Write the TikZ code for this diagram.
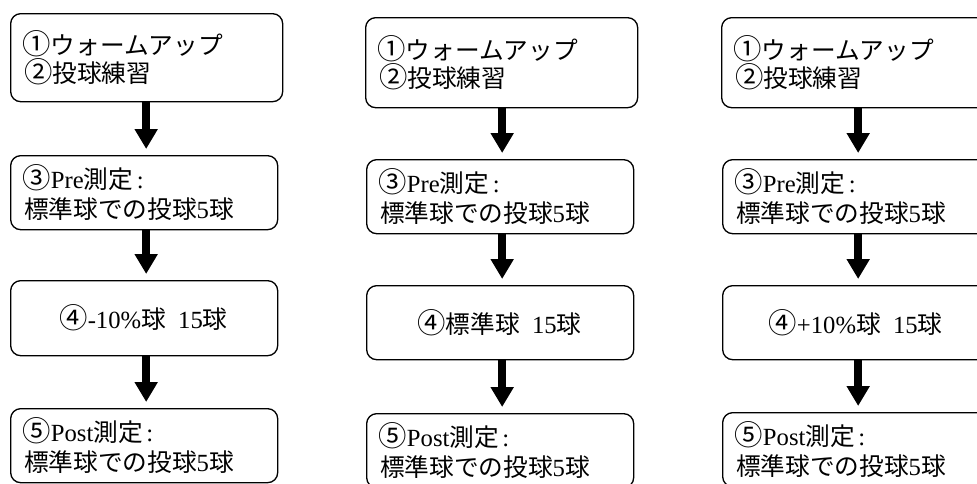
\documentclass[tikz,border=0pt]{standalone}
\usepackage{fontspec}
\setmainfont{Liberation Serif}
\newfontfamily\jp{Noto Sans CJK JP}
\newfontfamily\cnumfont[Scale=1.15]{Noto Sans CJK JP}
\usetikzlibrary{arrows.meta}
\begin{document}
\begin{tikzpicture}[x=0.75pt,y=-0.75pt,
  flowbox/.style={draw, line width=1pt, rounded corners=7.5pt, anchor=north west,
    inner xsep=10pt, inner ysep=0pt, align=left,
    font=\fontsize{18.5}{22.5}\selectfont},
  widebox/.style={flowbox, minimum width=204pt, text width=184pt},
  normbox/.style={flowbox, minimum width=200.25pt, text width=180.25pt},
  midbox/.style={normbox, align=center},
  flowarrow/.style={line width=6pt, -{Triangle[width=16.5pt,length=15pt]}, shorten >=4.5pt}
]
\useasboundingbox (0,0) rectangle (977,483);
\newcommand\cn[1]{{\cnumfont\kern-0.05em#1}}
\newcommand\wu{\cn{①}{\jp ウォームアップ}\\\cn{②}{\jp 投球練習}}
\newcommand\pre{\cn{③}Pre{\jp 測定}\hspace{0.15em}:\\{\jp 標準球での投球}5{\jp 球}}
\newcommand\post{\cn{⑤}Post{\jp 測定}\hspace{0.15em}:\\{\jp 標準球での投球}5{\jp 球}}
\begin{scope}
\clip (0,0) rectangle (977,483);
% column 1
\node[widebox, minimum height=66pt] (a1) at (10,13) {\wu};
\node[normbox, minimum height=55.5pt] (a2) at (10,155) {\pre};
\node[midbox, minimum height=56.25pt] (a3) at (10,280) {\cn{④}-10\%{\jp 球}\hspace{0.5em}15{\jp 球}};
\node[normbox, minimum height=55.5pt] (a4) at (10,408) {\post};
% column 2
\node[widebox, minimum height=67.5pt] (b1) at (365,17) {\wu};
\node[normbox, minimum height=55.5pt] (b2) at (366,159) {\pre};
\node[midbox, minimum height=55.5pt] (b3) at (366,285) {\cn{④}{\jp 標準球}\hspace{0.5em}15{\jp 球}};
\node[normbox, minimum height=55.5pt] (b4) at (366,413) {\post};
% column 3
\node[widebox, minimum height=67.5pt] (c1) at (721,17) {\wu};
\node[normbox, minimum height=55.5pt] (c2) at (722,159) {\pre};
\node[midbox, minimum height=55.5pt] (c3) at (722,285) {\cn{④}+10\%{\jp 球}\hspace{0.5em}15{\jp 球}};
\node[normbox, minimum height=55.5pt] (c4) at (722,412) {\post};
% arrows
\foreach \p/\q in {a1/a2,a2/a3,a3/a4}
  \draw[flowarrow] ([xshift=1.5]\p.south -| a2.center) -- ([xshift=1.5]\q.north -| a2.center);
\foreach \p/\q in {b1/b2,b2/b3,b3/b4}
  \draw[flowarrow] ([xshift=1.5]\p.south -| b2.center) -- ([xshift=1.5]\q.north -| b2.center);
\foreach \p/\q in {c1/c2,c2/c3,c3/c4}
  \draw[flowarrow] ([xshift=1.5]\p.south -| c2.center) -- ([xshift=1.5]\q.north -| c2.center);
\end{scope}
\end{tikzpicture}
\end{document}
